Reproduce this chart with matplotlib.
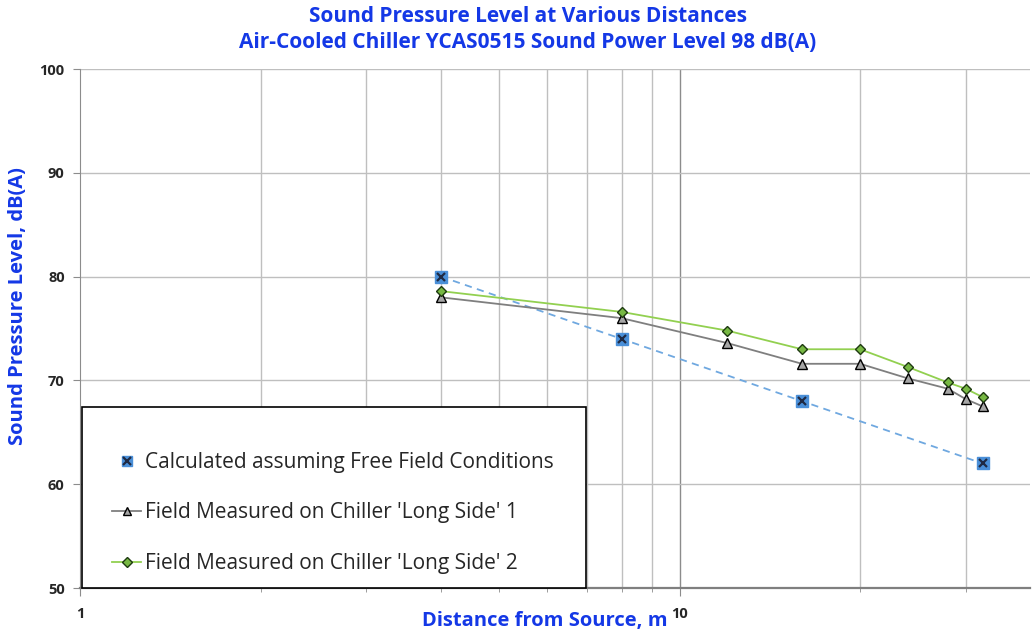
import matplotlib.pyplot as plt
import matplotlib.patches as patches
from matplotlib.legend_handler import HandlerTuple

# --- data ---
calc_dist = [4, 8, 16, 32]
calc_spl = [80.0, 74.0, 68.0, 62.0]

side1_dist = [4, 8, 12, 16, 20, 24, 28, 30, 32]
side1_spl = [78.0, 76.0, 73.6, 71.6, 71.6, 70.2, 69.2, 68.2, 67.5]

side2_dist = [4, 8, 12, 16, 20, 24, 28, 30, 32]
side2_spl = [78.6, 76.6, 74.8, 73.0, 73.0, 71.3, 69.8, 69.2, 68.4]

yticks = [50, 60, 70, 80, 90, 100]

blue = "#1438e6"
plt.rcParams['font.family'] = ['Open Sans', 'DejaVu Sans']

W, H = 1032, 635
fig = plt.figure(figsize=(W / 100, H / 100), dpi=100)
ax = fig.add_axes([80 / W, 1 - 588 / H, 950 / W, (588 - 69) / H])

ax.set_xscale('log')
ax.set_xlim(1, 38.4)
ax.set_ylim(50, 100)

# grid
ax.set_yticks(yticks)
ax.yaxis.grid(True, color="#bfbfbf", lw=1)
for d in [2, 3, 4, 5, 6, 7, 8, 9, 20, 30]:
    ax.axvline(d, color="#bfbfbf", lw=1, zorder=0.5)
ax.axvline(10, color="#8c8c8c", lw=1, zorder=0.5)
ax.set_axisbelow(True)

for s in ['top', 'right']:
    ax.spines[s].set_visible(False)
ax.spines['left'].set_color("#8c8c8c")
ax.spines['bottom'].set_color("#7f7f7f")
ax.spines['bottom'].set_linewidth(1.6)

ax.tick_params(axis='y', length=5, color="#8c8c8c", labelsize=10.5, labelcolor="#262626", pad=6)
ax.tick_params(axis='x', which='major', length=6, color="#8c8c8c", labelsize=10.5,
               labelcolor="#262626", pad=8)
ax.tick_params(axis='x', which='minor', length=3, color="#8c8c8c", labelbottom=False)
ax.set_xticks([1, 10])
ax.set_xticklabels(["1", "10"])
for t in ax.get_xticklabels() + ax.get_yticklabels():
    t.set_fontweight('bold')

# series
ax.plot(calc_dist, calc_spl, ls=(0, (4, 3)), color="#6fa8e0", lw=1.3, zorder=2)
sq, = ax.plot(calc_dist, calc_spl, ls='none', marker='s', ms=8, mfc="#4a8fd8",
              mec="#4a8fd8", zorder=4)
xx, = ax.plot(calc_dist, calc_spl, ls='none', marker='x', ms=6, mew=1.6,
              color="#1f2a44", zorder=5)

l1, = ax.plot(side1_dist, side1_spl, color="#7f7f7f", lw=1.3, marker='^', ms=7,
              mfc="#a6a6a6", mec="black", mew=1, zorder=3)
l2, = ax.plot(side2_dist, side2_spl, color="#92d050", lw=1.3, marker='D', ms=5.5,
              mfc="#77b843", mec="#1e3a10", mew=1, zorder=3)

# legend box (drawn by hand, Excel-style padding)
box = patches.Rectangle((82 / W, 1 - 588 / H), (586 - 82) / W, (588 - 407) / H,
                        transform=fig.transFigure, facecolor="white", edgecolor="black",
                        lw=1.2, zorder=6)
ax.add_artist(box)
box.set_clip_on(False)

leg = ax.legend([(sq, xx), l1, l2],
                ["Calculated assuming Free Field Conditions",
                 "Field Measured on Chiller 'Long Side' 1",
                 "Field Measured on Chiller 'Long Side' 2"],
                handler_map={tuple: HandlerTuple(ndivide=1)},
                loc='lower left', bbox_to_anchor=(112 / W, 1 - 574 / H),
                bbox_transform=fig.transFigure, fontsize=15,
                frameon=False, labelspacing=1.42, handlelength=1.4, handletextpad=0.2,
                borderpad=0, borderaxespad=0, markerscale=0.85)
leg.set_zorder(7)
for t in leg.get_texts():
    t.set_color("#262626")

fig.text(528 / W, 1 - 16 / H, "Sound Pressure Level at Various Distances", ha='center',
         va='center', fontsize=15, fontweight='bold', color=blue)
fig.text(528 / W, 1 - 42 / H, "Air-Cooled Chiller YCAS0515 Sound Power Level 98 dB(A)",
         ha='center', va='center', fontsize=15, fontweight='bold', color=blue)
fig.text(545 / W, 1 - 621 / H, "Distance from Source, m", ha='center', va='center',
         fontsize=14.5, fontweight='bold', color=blue)
fig.text(18 / W, 1 - 306 / H, "Sound Pressure Level, dB(A)", ha='center', va='center',
         rotation=90, fontsize=14.5, fontweight='bold', color=blue)

fig.savefig("out.png", dpi=100)
